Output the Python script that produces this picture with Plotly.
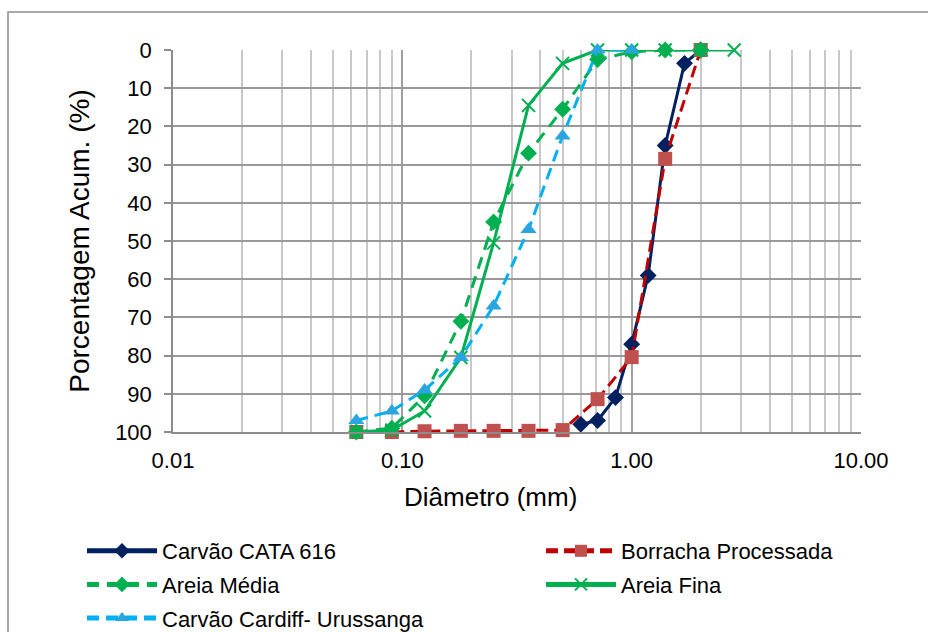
import plotly.graph_objects as go

# Data (diameter in mm, cumulative percentage)
cata_x = [0.6, 0.71, 0.85, 1.0, 1.18, 1.4, 1.7, 2.0]
cata_y = [98, 97, 91, 77, 59, 25, 3.5, 0]

borracha_x = [0.063, 0.09, 0.125, 0.18, 0.25, 0.355, 0.5, 0.71, 1.0, 1.4, 2.0]
borracha_y = [100, 100, 99.8, 99.7, 99.7, 99.7, 99.5, 91.4, 80.4, 28.5, 0]

media_x = [0.063, 0.09, 0.125, 0.18, 0.25, 0.355, 0.5, 0.71, 1.0, 1.4, 2.0]
media_y = [100, 99, 90.5, 71, 45, 27, 15.5, 2.5, 0.5, 0, 0]

fina_x = [0.063, 0.09, 0.125, 0.18, 0.25, 0.355, 0.5, 0.71, 1.0, 1.4, 2.0, 2.8]
fina_y = [100, 99.5, 94.5, 80.5, 50.5, 14.5, 3.5, 0, 0, 0, 0, 0]

cardiff_x = [0.063, 0.09, 0.125, 0.18, 0.25, 0.355, 0.5, 0.71, 1.0]
cardiff_y = [97, 94.5, 89, 80.5, 67, 47, 22.5, 0, 0]

y_ticks = list(range(0, 101, 10))

FONT = "Liberation Sans, Arial, sans-serif"

fig = go.Figure()

fig.add_trace(go.Scatter(
    x=cata_x, y=cata_y, mode="lines+markers", name="Carvão CATA 616",
    legend="legend", legendgroup="g1", cliponaxis=False,
    line=dict(color="#002060", width=3),
    marker=dict(symbol="diamond", size=13, color="#002060")))

fig.add_trace(go.Scatter(
    x=borracha_x, y=borracha_y, mode="lines+markers", name="Borracha Processada",
    legend="legend2", legendgroup="g2", cliponaxis=False,
    line=dict(color="#C00000", width=3, dash="12px,6px"),
    marker=dict(symbol="square", size=14, color="#C0504D")))

fig.add_trace(go.Scatter(
    x=media_x, y=media_y, mode="lines+markers", name="Areia Média",
    legend="legend", legendgroup="g3", cliponaxis=False,
    line=dict(color="#00B050", width=3, dash="12px,8px"),
    marker=dict(symbol="diamond", size=13, color="#00B050")))

fig.add_trace(go.Scatter(
    x=fina_x, y=fina_y, mode="lines+markers", name="Areia Fina",
    legend="legend2", legendgroup="g4", cliponaxis=False,
    line=dict(color="#00B050", width=3),
    marker=dict(symbol="x-thin", size=13, color="#00B050",
                line=dict(color="#00B050", width=2))))

fig.add_trace(go.Scatter(
    x=cardiff_x, y=cardiff_y, mode="lines+markers", name="Carvão Cardiff- Urussanga",
    legend="legend", legendgroup="g5", cliponaxis=False,
    line=dict(color="#00B0F0", width=3, dash="12px,7px"),
    marker=dict(symbol="triangle-up", size=14, color="#2AA5DF")))

L, R, T, B = 173, 67, 50, 200
W, H = 928, 632
pw = W - L - R
ph = H - T - B

leg_common = dict(
    orientation="v", yanchor="top", xanchor="left",
    font=dict(family=FONT, size=22, color="black"),
    bgcolor="rgba(0,0,0,0)", traceorder="grouped", tracegroupgap=2,
    itemwidth=70, itemsizing="constant",
)

fig.update_layout(
    width=W, height=H,
    margin=dict(l=L, r=R, t=T, b=B, autoexpand=False),
    paper_bgcolor="white", plot_bgcolor="white",
    font=dict(family=FONT, size=22, color="black"),
    showlegend=True,
    legend=dict(x=(82 - L) / pw, y=(432 - 530) / ph, **leg_common),
    legend2=dict(x=(541 - L) / pw, y=(432 - 530) / ph, **leg_common),
    xaxis=dict(
        type="log", range=[-2, 1], dtick=1, tickformat=".2f",
        showgrid=True, gridcolor="#A0A0A0", gridwidth=1.5,
        minor=dict(dtick="D1", showgrid=True, gridcolor="#C8C8C8", gridwidth=1.5, ticks=""),
        showline=True, linecolor="#8C8C8C", linewidth=1.5,
        ticks="", ticklabelstandoff=8,
        tickfont=dict(family=FONT, size=22),
        zeroline=False,
    ),
    yaxis=dict(
        range=[100, 0], tickvals=y_ticks,
        showgrid=True, gridcolor="#999999", gridwidth=1.5,
        showline=True, linecolor="#8C8C8C", linewidth=1.5,
        ticks="outside", ticklen=7, tickcolor="#8C8C8C", tickwidth=1.5,
        ticklabelstandoff=8,
        tickfont=dict(family=FONT, size=22),
        title=dict(text="Porcentagem Acum. (%)", font=dict(family=FONT, size=28), standoff=17),
        zeroline=False,
    ),
    annotations=[dict(
        text="Diâmetro (mm)", xref="paper", yref="paper",
        x=(490 - L) / pw, y=(432 - 497) / ph, xanchor="center", yanchor="middle",
        showarrow=False, font=dict(family=FONT, size=26, color="black"))],
    shapes=[dict(
        type="rect", xref="paper", yref="paper",
        x0=(8 - L) / pw, x1=1.3, y0=-0.8, y1=(432 - 12) / ph,
        line=dict(color="#8C8C8C", width=1.5), fillcolor="rgba(0,0,0,0)", layer="below")],
)

fig.write_html("out.html")
